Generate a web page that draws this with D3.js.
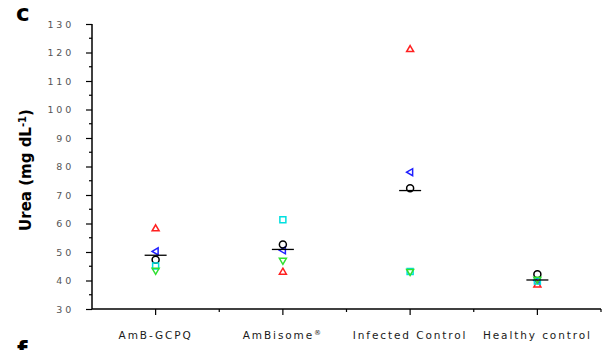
<!DOCTYPE html>
<html>
<head>
<meta charset="utf-8">
<script src="https://cdn.jsdelivr.net/npm/d3@7"></script>
<style>
  body { margin: 0; background: #fff; }
  svg { display: block; }
  .tick text { font-family: "DejaVu Sans", Verdana, sans-serif; fill: #3a3a3a; }
</style>
</head>
<body>
<div id="chart"></div>
<script>
const groups = ["AmB-GCPQ", "AmBisome®", "Infected Control", "Healthy control"];
const yTicks = [30, 40, 50, 60, 70, 80, 90, 100, 110, 120, 130];

// one value per animal/marker in each group
const redUp = [58.3, 43.1, 121.2, 38.6];
const blueLeft = [50.2, 50.6, 78.0, 40.0];
const blackCircle = [47.3, 52.6, 72.4, 42.2];
const cyanSquare = [45.1, 61.3, 43.2, 39.8];
const greenDown = [43.4, 46.9, 43.0, 40.3];

const series = [
  { name: "red", values: redUp, color: "#ff2020", shape: "up" },
  { name: "blue", values: blueLeft, color: "#2020ff", shape: "left" },
  { name: "black", values: blackCircle, color: "#000", shape: "circle" },
  { name: "cyan", values: cyanSquare, color: "#00e0e0", shape: "square" },
  { name: "green", values: greenDown, color: "#30e030", shape: "down" }
];

const width = 604, height = 350;
const svg = d3.select("#chart").append("svg")
  .attr("width", width).attr("height", height);

const x = d3.scaleBand().domain(groups).range([92, 601]);
const y = d3.scaleLinear().domain([30, 130]).range([309, 24]);

// y axis
const yAxis = svg.append("g").attr("transform", "translate(92,0)");
yAxis.call(d3.axisLeft(y).tickValues(yTicks).tickSize(6).tickPadding(12))
  .call(g => g.selectAll(".tick text")
    .style("font-size", "9.5px").style("letter-spacing", "2.8px").style("fill", "#555"));
yAxis.select(".domain").attr("d", `M0,${y(130)}V${y(30)}`).attr("stroke-width", 1.5);
yAxis.selectAll(".tick line").attr("stroke-width", 1.2);
// minor ticks
yAxis.selectAll("line.minor")
  .data(yTicks.slice(0, -1).map(v => v + 5))
  .join("line").attr("class", "minor")
  .attr("x1", -3).attr("x2", 0)
  .attr("y1", d => y(d)).attr("y2", d => y(d))
  .attr("stroke", "#000").attr("stroke-width", 1.2);

// x axis
const xAxis = svg.append("g").attr("transform", "translate(0,309)");
xAxis.call(d3.axisBottom(x).tickSize(6).tickPadding(17))
  .call(g => g.selectAll(".tick text")
    .style("font-size", "10.5px").style("letter-spacing", "1.9px").style("fill", "#1a1a1a"));
xAxis.selectAll(".tick").attr("transform", d => `translate(${x(d) + x.bandwidth() / 2},0)`);
// registered mark as superscript
xAxis.selectAll(".tick text").filter(d => d.endsWith("®"))
  .text(d => d.slice(0, -1))
  .append("tspan").attr("baseline-shift", "super").style("font-size", "7px").text("®");
xAxis.select(".domain").attr("d", `M92,0H601`).attr("stroke-width", 1.5);
xAxis.selectAll(".tick line").attr("stroke-width", 1.2);
const bounds = groups.slice(1).map(g => x(g)).concat([x.range()[1]]);
xAxis.selectAll("line.minor").data(bounds)
  .join("line").attr("class", "minor")
  .attr("x1", d => d).attr("x2", d => d)
  .attr("y1", 0).attr("y2", 3)
  .attr("stroke", "#000").attr("stroke-width", 1.2);

// y label
const ylab = svg.append("text")
  .attr("transform", `translate(31,170) rotate(-90)`)
  .attr("text-anchor", "middle")
  .style("font-family", "\"DejaVu Sans\", Verdana, sans-serif")
  .style("font-size", "15px").style("font-weight", "bold")
  .text("Urea (mg dL");
ylab.append("tspan").attr("baseline-shift", "super").style("font-size", "10px").text("-1");
ylab.append("tspan").text(")");

// panel letters
svg.append("text").attr("x", 16).attr("y", 21)
  .style("font-family", "\"DejaVu Sans\", Verdana, sans-serif")
  .style("font-size", "23px").style("font-weight", "bold").text("c");
svg.append("text").attr("x", 17).attr("y", 359)
  .style("font-family", "\"DejaVu Sans\", Verdana, sans-serif")
  .style("font-size", "24px").style("font-weight", "bold").text("f");

// markers
const cx = g => x(g) + x.bandwidth() / 2;
const shapePath = {
  up: "M0,-3.5L3.5,2.5L-3.5,2.5Z",
  down: "M0,3.5L3.5,-2.5L-3.5,-2.5Z",
  left: "M-3.5,0L2.5,-3.5L2.5,3.5Z",
  square: "M-3,-3H3V3H-3Z"
};
const plot = svg.append("g");
series.forEach(s => {
  const pts = plot.selectAll(null).data(groups.map((g, i) => ({ g, v: s.values[i] })))
    .join(s.shape === "circle" ? "circle" : "path")
    .attr("fill", "none").attr("stroke", s.color).attr("stroke-width", 1.5);
  if (s.shape === "circle") {
    pts.attr("cx", d => cx(d.g)).attr("cy", d => y(d.v)).attr("r", 3.5);
  } else {
    pts.attr("transform", d => `translate(${cx(d.g)},${y(d.v)})`).attr("d", shapePath[s.shape]);
  }
});

// mean lines
const means = groups.map((g, i) => ({ g, v: d3.mean(series, s => s.values[i]) }));
plot.selectAll("line.mean").data(means).join("line").attr("class", "mean")
  .attr("x1", d => cx(d.g) - 11).attr("x2", d => cx(d.g) + 11)
  .attr("y1", d => y(d.v)).attr("y2", d => y(d.v))
  .attr("stroke", "#000").attr("stroke-width", 1.3);
</script>
</body>
</html>
